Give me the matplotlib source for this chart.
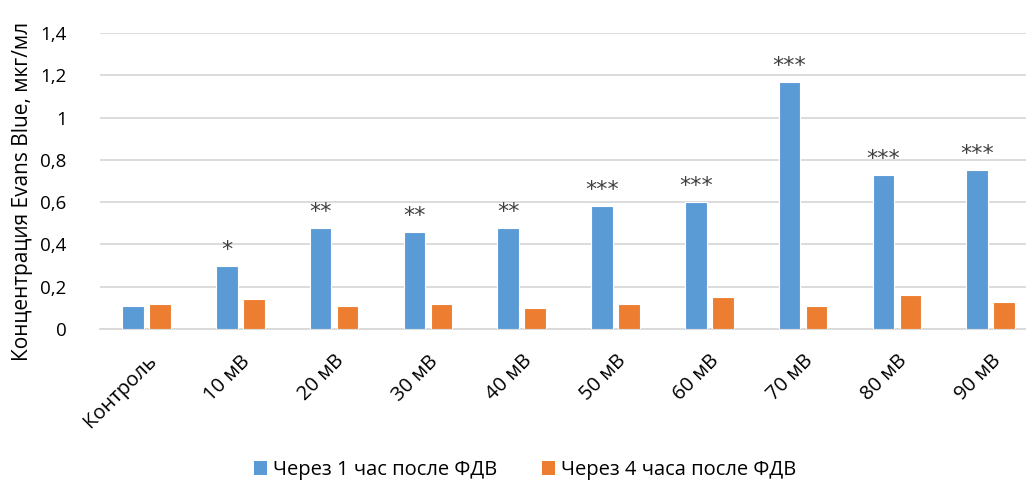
import matplotlib
matplotlib.use("Agg")
import matplotlib.pyplot as plt
from matplotlib.patches import Patch
import numpy as np

categories = ["Контроль", "10 мВ", "20 мВ", "30 мВ", "40 мВ", "50 мВ", "60 мВ", "70 мВ", "80 мВ", "90 мВ"]
series1_name = "Через 1 час после ФДВ"
series2_name = "Через 4 часа после ФДВ"
series1 = [0.11, 0.30, 0.48, 0.46, 0.48, 0.58, 0.60, 1.17, 0.73, 0.75]
series2 = [0.12, 0.14, 0.11, 0.12, 0.10, 0.12, 0.15, 0.11, 0.16, 0.13]
stars = ["", "*", "**", "**", "**", "***", "***", "***", "***", "***"]
yticks = [0, 0.2, 0.4, 0.6, 0.8, 1.0, 1.2, 1.4]
ytick_labels = ["0", "0,2", "0,4", "0,6", "0,8", "1", "1,2", "1,4"]
ylabel = "Концентрация Evans Blue, мкг/мл"

FONT = ["Open Sans", "DejaVu Sans"]
plt.rcParams["font.family"] = FONT

W, H = 1026, 483
fig = plt.figure(figsize=(W / 100, H / 100), dpi=100)
ax = fig.add_axes([100 / W, 1 - 329 / H, (1026 - 100) / W, (329 - 33) / H])

x = np.arange(len(categories))
bw = 0.23
off = 0.144
blue = "#5B9BD5"
orange = "#ED7D31"
ax.bar(x - off, series1, bw, color=blue, edgecolor="white", linewidth=0.8, zorder=3)
ax.bar(x + off, series2, bw, color=orange, edgecolor="white", linewidth=0.8, zorder=3)

for xi, v, s in zip(x, series1, stars):
    if s:
        ax.annotate(s, (xi - off, v), xytext=(0, 10), textcoords="offset pixels",
                    ha="center", va="baseline", fontsize=16, color="#404040",
                    family="DejaVu Sans", zorder=4)

ax.set_xlim(-0.496, 9.376)
ax.set_ylim(0, 1.4)
ax.set_yticks(yticks)
ax.set_yticklabels(ytick_labels)
ax.set_xticks(x)
ax.set_xticklabels(categories, rotation=45, ha="right", rotation_mode="anchor")

ax.tick_params(axis="y", length=0, pad=24, labelsize=13.5, labelcolor="#000000")
ax.tick_params(axis="x", length=0, pad=16, labelsize=14.5, labelcolor="#000000")

for sp in ["top", "right", "left"]:
    ax.spines[sp].set_visible(False)
ax.spines["bottom"].set_color("#d9d9d9")
ax.spines["bottom"].set_linewidth(1.3)
ax.yaxis.grid(True, color="#d9d9d9", linewidth=1.3, zorder=0)
ax.set_axisbelow(True)

fig.text(23 / W, 1 - 191 / H, ylabel, rotation=90, ha="center", va="center", fontsize=15)

handles = [Patch(facecolor=blue, edgecolor="none"), Patch(facecolor=orange, edgecolor="none")]
fig.legend(handles, [series1_name, series2_name], loc="center", bbox_to_anchor=(525 / W, 1 - 470 / H),
           ncol=2, frameon=False, fontsize=14.5, handlelength=0.65, handleheight=0.65,
           handletextpad=0.3, columnspacing=2.2)

fig.savefig("out.png", dpi=100)
